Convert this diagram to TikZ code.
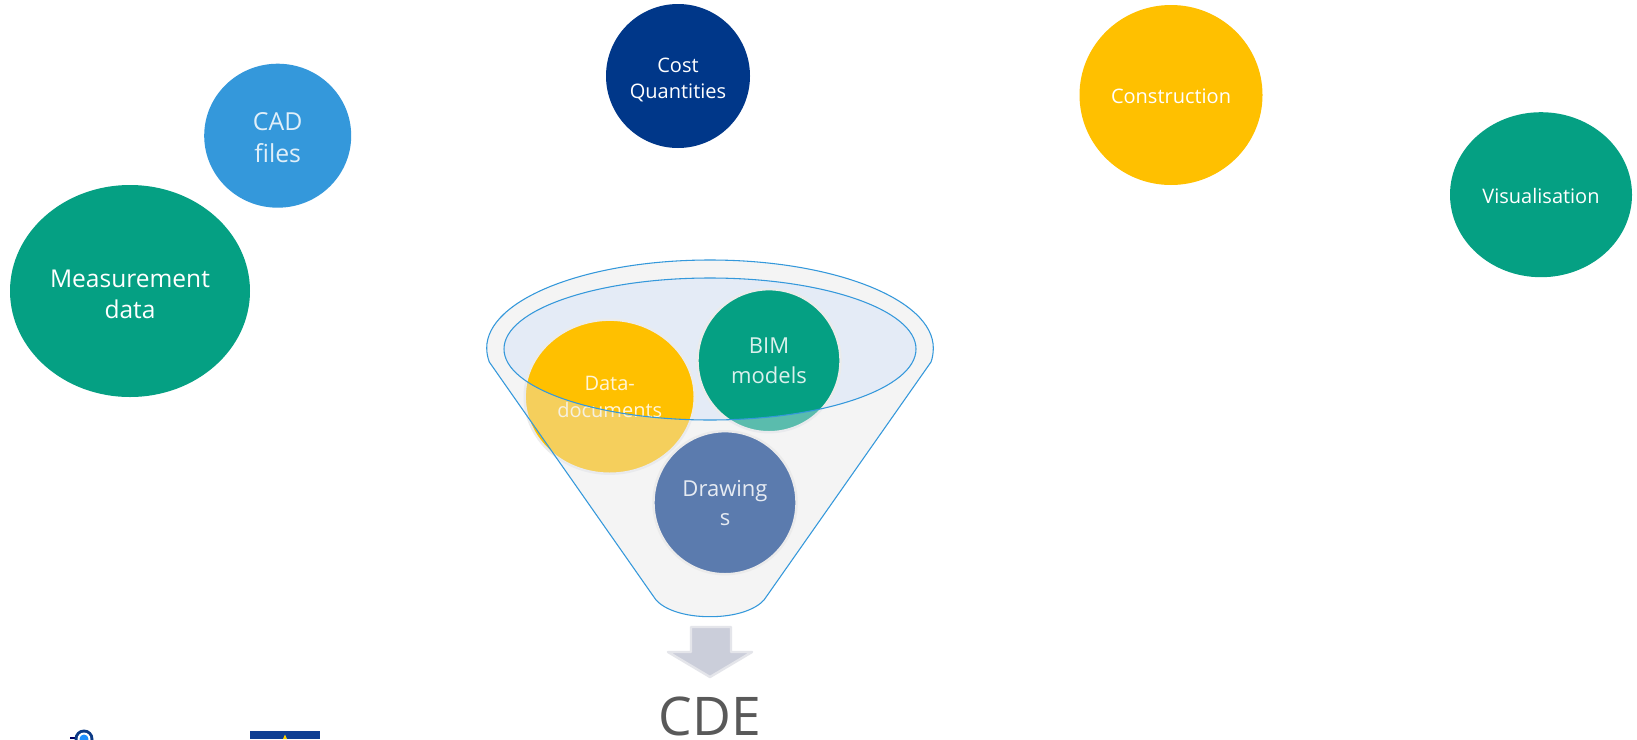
\documentclass[tikz,border=0pt]{standalone}
\usepackage{fontspec}
\setmainfont{Open Sans}
\usetikzlibrary{shapes.geometric}
\definecolor{tealc}{HTML}{05A083}
\definecolor{skyc}{HTML}{3498DB}
\definecolor{navyc}{HTML}{003789}
\definecolor{amberc}{HTML}{FFC000}
\definecolor{slatec}{HTML}{5B7BAE}
\definecolor{funnelc}{HTML}{FDFBF6}
\definecolor{washc}{HTML}{E6EAF2}
\definecolor{rimc}{HTML}{E4EBF6}
\definecolor{edgec}{HTML}{3498DB}
\definecolor{ringc}{HTML}{EBEBEB}
\definecolor{arrowc}{HTML}{CBCEDA}
\definecolor{arrowe}{HTML}{E4E5EA}
\definecolor{cdec}{HTML}{595959}
\tikzset{
  blob/.style n args={3}{ellipse,fill=#3,minimum width=0.75pt*#1,minimum height=0.75pt*#2,inner sep=0pt,outer sep=0pt,align=center,text=white},
  ringed/.style={draw=ringc,line width=1.8pt},
  soft/.style={text=white,text opacity=0.85},
  funnelline/.style={draw=edgec,line width=0.8pt},
  fs/.style n args={2}{font=\fontsize{#1}{#2}\selectfont}
}
\def\funnelpath{(486.7,348) .. controls (486.7,299.4) and (586.6,260) .. (710,260)
  .. controls (833.4,260) and (933.3,299.4) .. (933.3,348)
  .. controls (933.3,353) and (932.5,358) .. (931,362)
  -- (764,600) .. controls (755,610) and (735,616.7) .. (710,616.7)
  .. controls (685,616.7) and (665,610) .. (656,600)
  -- (489.3,362) .. controls (487.8,358) and (486.7,353) .. (486.7,348) -- cycle}
\begin{document}
\begin{tikzpicture}[x=0.75pt,y=-0.75pt]
\useasboundingbox (0,0) rectangle (1637,739);
\clip (0,0) rectangle (1637,739);
\fill[white] (0,0) rectangle (1637,739);
% free circles
\node[blob={240}{212}{tealc},fs={18.4}{23.5}] (meas) at (130,291) {\rule{0pt}{18pt}Measurement\\data};
\node[blob={147}{144}{skyc},fs={18.6}{23.5},soft] (cad) at (277.7,135.7) {\rule{0pt}{16.2pt}CAD\\files};
\node[blob={144}{144}{navyc},fs={15}{19.5}] (cost) at (678,76) {\rule{0pt}{17pt}Cost\\Quantities};
\node[blob={183}{180}{amberc},fs={15}{19}] (constr) at (1171,95) {\rule{0pt}{13pt}Construction};
\node[blob={182}{165}{tealc},fs={15}{19}] (vis) at (1541,194.7) {\rule{0pt}{13.4pt}Visualisation};
% funnel back
\fill[funnelc] \funnelpath;
\fill[rimc] (710,349) ellipse [x radius=206,y radius=71];
% circles inside
\node[blob={170}{154}{amberc},ringed,fs={15}{20},soft] (data) at (609.7,396.7) {Data-\\documents};
\node[blob={143}{143}{tealc},ringed,fs={16.5}{22},soft] (bim) at (769,360.7) {BIM\\models};
% funnel front wash
\fill[washc,fill opacity=0.38,even odd rule] \funnelpath (710,349) ellipse [x radius=206,y radius=71];
\node[blob={143}{143}{slatec},ringed,fs={16.5}{22},soft] (draw) at (725,502.7) {Drawing\\s};
% funnel outlines
\draw[funnelline] \funnelpath;
\draw[funnelline] (710,349) ellipse [x radius=206,y radius=71];
% arrow
\draw[fill=arrowc,draw=arrowe,line width=1.8pt,line join=round] (691,627) -- (731,627) -- (731,652) -- (752,652) -- (710,677) -- (668,652) -- (691,652) -- cycle;
% label
\node[text=cdec,font=\fontsize{40}{44}\selectfont,inner sep=0pt,anchor=base] (cde) at (710,735) {CDE};
% logos at the bottom edge
\fill[blue!40!black] (70,737) rectangle (77,739);
\fill[color={rgb,255:red,11;green,58;blue,134}] (84,739) circle [radius=9.5];
\fill[white] (84,739) circle [radius=6.5];
\fill[color={rgb,255:red,30;green,144;blue,255}] (84,739) circle [radius=4.5];
\fill[color={rgb,255:red,15;green,63;blue,147}] (250,731) rectangle (320,739);
\fill[color={rgb,255:red,255;green,213;blue,0}] (285,734.5) -- (287,739) -- (283,739) -- cycle;
\end{tikzpicture}
\end{document}
